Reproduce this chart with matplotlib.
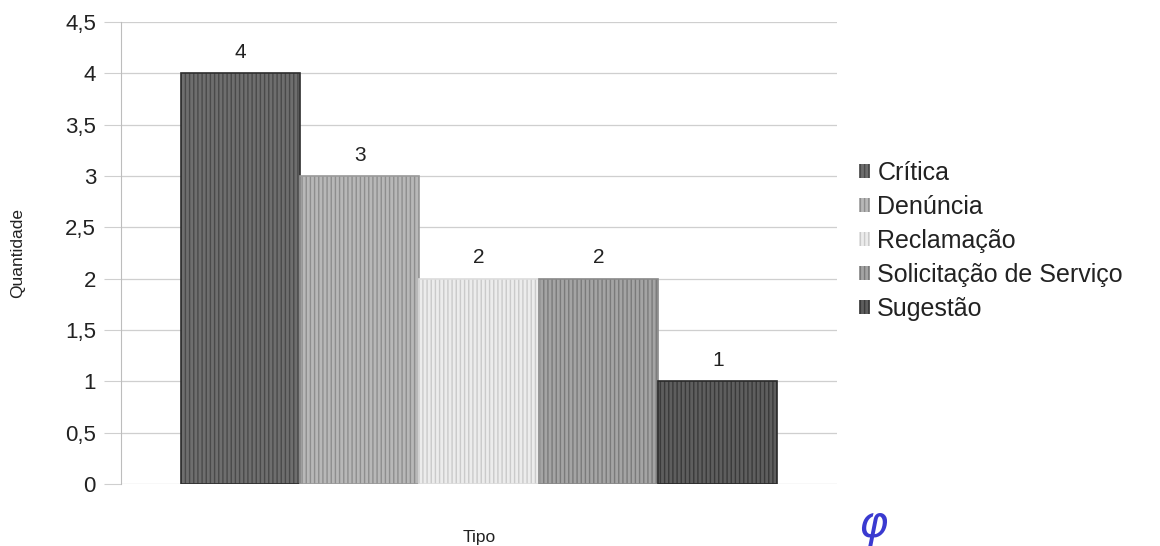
import matplotlib.pyplot as plt
import numpy as np

# data
tipos = ['Crítica', 'Denúncia', 'Reclamação', 'Solicitação de Serviço', 'Sugestão']
quantidade = [4, 3, 2, 2, 1]

# bar fill / stripe / outline greys
fill_colors = ['#6e6e6e', '#b8b8b8', '#ececec', '#a4a4a4', '#5e5e5e']
stripe_colors = ['#4a4a4a', '#8e8e8e', '#cacaca', '#7a7a7a', '#3a3a3a']
edge_colors = ['#2e2e2e', '#9a9a9a', '#dddddd', '#8a8a8a', '#2a2a2a']

plt.rcParams['font.family'] = ['Liberation Sans', 'DejaVu Sans']
plt.rcParams['hatch.linewidth'] = 1.0

fig = plt.figure(figsize=(11.6, 5.46), dpi=100)
ax = fig.add_axes([0.1043, 0.1136, 0.6173, 0.8461])

width = 1 / 6
x = 0.5 + (np.arange(len(tipos)) - 2) * width

for i, (xi, q) in enumerate(zip(x, quantidade)):
    ax.bar(xi, q, width=width, color=fill_colors[i], edgecolor=stripe_colors[i],
           hatch='||||', linewidth=0, zorder=2, label=tipos[i])
    ax.bar(xi, q, width=width, fill=False, edgecolor=edge_colors[i],
           linewidth=1.2, zorder=3)
    ax.text(xi, q + 0.11, str(q), ha='center', va='bottom', fontsize=15, color='#222222')

ax.set_xlim(0, 1)
ax.set_ylim(0, 4.5)
yt = np.arange(0, 4.51, 0.5)
ax.set_yticks(yt)
ax.set_yticklabels([f'{v:g}'.replace('.', ',') for v in yt], fontsize=16)
ax.set_xticks([])
ax.yaxis.grid(True, color='#cfcfcf', linewidth=0.9, zorder=0)
ax.set_axisbelow(True)

for s in ['top', 'right', 'bottom']:
    ax.spines[s].set_visible(False)
ax.spines['left'].set_color('#bdbdbd')
ax.tick_params(axis='y', length=12, color='#cfcfcf', pad=6, labelcolor='#222222')

ax.set_ylabel('Quantidade', fontsize=12.5, color='#222222', va='center')
ax.yaxis.set_label_coords(-0.144, 0.5)
ax.set_xlabel('Tipo', fontsize=12.5, color='#222222', va='center')
ax.xaxis.set_label_coords(0.5, -0.115)

leg = ax.legend(loc='center left', bbox_to_anchor=(1.016, 0.526), frameon=False,
                fontsize=18, handlelength=0.45, handleheight=0.45, handletextpad=0.3,
                labelspacing=0.4, borderaxespad=0)
for t in leg.get_texts():
    t.set_color('#222222')

# initial written on the page
fig.text(0.753, 0.0, 'φ', fontsize=32, color='#3a3ad0', fontstyle='italic',
         family='DejaVu Sans', ha='center', va='bottom')

fig.savefig('out.png', dpi=100)
